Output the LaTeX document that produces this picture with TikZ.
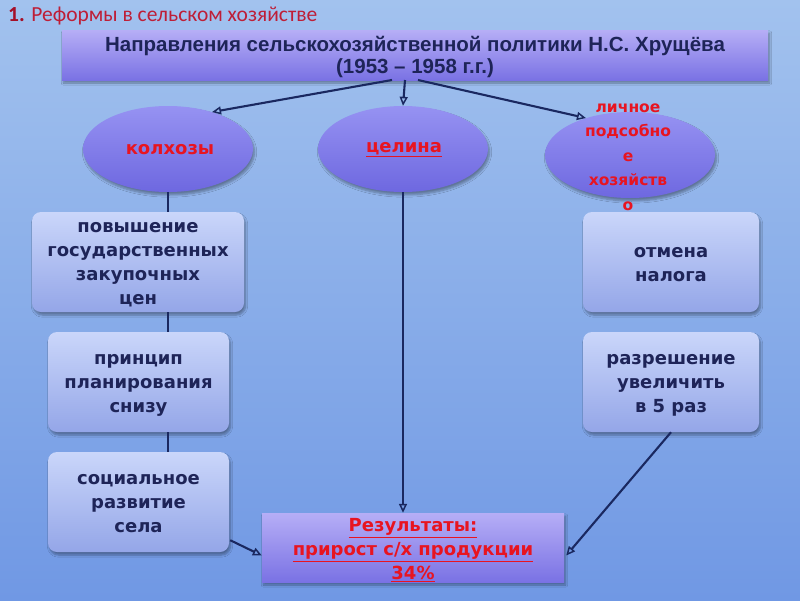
\documentclass[tikz,border=0pt]{standalone}
\usepackage{fontspec}
\setmainfont{DejaVu Sans}
\newfontfamily\titlefont{Carlito}
\newfontfamily\headfont{Liberation Sans}
\usetikzlibrary{arrows.meta,shadows.blur,calc,shapes.geometric}
\definecolor{skytop}{RGB}{162,194,238}
\definecolor{skymid}{RGB}{198,218,246}
\definecolor{skybot}{RGB}{112,152,228}
\definecolor{boxtop}{RGB}{202,214,250}
\definecolor{boxbot}{RGB}{148,166,232}
\definecolor{elltop}{RGB}{150,146,242}
\definecolor{ellbot}{RGB}{110,104,224}
\definecolor{hdrtop}{RGB}{182,174,246}
\definecolor{hdrbot}{RGB}{122,114,228}
\definecolor{navy}{RGB}{30,36,88}
\definecolor{linecol}{RGB}{26,40,96}
\definecolor{redtext}{RGB}{232,20,32}
\definecolor{tdark}{RGB}{165,15,40}
\definecolor{tred}{RGB}{190,30,55}
\tikzset{
  shd/.style={blur shadow={shadow blur steps=6, shadow xshift=1.5pt, shadow yshift=-3pt, shadow opacity=35}},
  bx/.style={shd, rounded corners=9pt, top color=boxtop, bottom color=boxbot, draw=none,
    minimum height=100pt, inner sep=0pt},
  bxt/.style={text=navy, font=\bfseries\fontsize{18}{24}\selectfont, align=center, inner sep=0pt},
  ell/.style={ellipse, shd, top color=elltop, bottom color=ellbot, draw=none,
    minimum width=170pt, minimum height=86pt, inner sep=0pt},
  etext/.style={text=redtext, font=\bfseries\fontsize{18}{24}\selectfont, align=center},
  ptext/.style={text=redtext, font=\bfseries\fontsize{15.5}{24.5}\selectfont, align=center},
  hdr/.style={shd, top color=hdrtop, bottom color=hdrbot, draw=none, inner sep=0pt},
  conn/.style={draw=linecol, line width=2.1pt},
  arr/.style={conn, -{Triangle[open, length=9pt, width=8pt, line width=1.5pt]}}
}
\begin{document}
\begin{tikzpicture}[x=1pt,y=-1pt]
\useasboundingbox (0,0) rectangle (800,600);
\shade[top color=skytop, middle color=skymid, bottom color=skybot] (0,0) rectangle (800,600);

% title
\node[anchor=west, font=\titlefont\fontsize{21.5}{24}\selectfont, inner sep=0pt] (title) at (8,16)
  {\textcolor{tdark}{\textbf{1.}} \textcolor{tred}{Реформы в сельском хозяйстве}};

% header
\node[hdr, minimum width=706pt, minimum height=50pt] (h) at (415,55) {};
\node[text=navy, font=\headfont\bfseries\fontsize{20.5}{22}\selectfont, align=center] (ht) at (415,57)
  {Направления сельскохозяйственной политики Н.С. Хрущёва\\(1953 – 1958 г.г.)};

% ellipses
\node[ell] (k) at (168,149) {};
\node[etext] (kt) at (170,150) {колхозы};
\node[ell] (c) at (403,149) {};
\node[etext] (ct) at (404,150) {\underline{целина}};
\node[ell] (p) at (630,155) {};
\node[ptext] (pt) at (628,157) {личное\\подсобно\\е\\хозяйств\\о};

% left boxes
\node[bx, minimum width=212pt] (b1) at (138,262) {};
\node[bxt] (t1) at (138,265) {повышение\\государственных\\закупочных\\цен};
\node[bx, minimum width=181pt] (b2) at (138.5,382) {};
\node[bxt] (t2) at (138.5,385) {принцип\\планирования\\снизу};
\node[bx, minimum width=181pt] (b3) at (138.5,502) {};
\node[bxt] (t3) at (138.5,504) {социальное\\развитие\\села};

% right boxes
\node[bx, minimum width=176pt] (b4) at (671,262) {};
\node[bxt] (t4) at (671,265) {отмена\\налога};
\node[bx, minimum width=176pt] (b5) at (671,382) {};
\node[bxt] (t5) at (671,385) {разрешение\\увеличить\\в 5 раз};

% result
\node[hdr, minimum width=302pt, minimum height=69pt] (res) at (413,547.5) {};
\node[text=redtext, font=\bfseries\fontsize{18}{24}\selectfont, align=center] (rt) at (413,550)
  {\underline{Результаты:}\\\underline{прирост с/х продукции}\\\underline{34\%}};

% header arrows
\coordinate (hl) at (392,80);
\coordinate (hm) at (405,80);
\coordinate (hr) at (418,80);
\draw[arr] (hl) -- (k.40);
\draw[arr] (hm) -- (c.north);
\draw[arr] (hr) -- (p.140);

% left chain
\draw[conn] (k.south) -- (k.south |- b1.north);
\draw[conn] (k.south |- b1.south) -- (k.south |- b2.north);
\draw[conn] (k.south |- b2.south) -- (k.south |- b3.north);
\draw[arr] ($(b3.south east)+(1,-12)$) -- ($(res.west)+(0,8)$);

% center
\draw[arr] (c.south) -- (c.south |- res.north);

% right chain
\draw[conn] ($(p.south)+(10,0)$) -- ($(p.south)+(10,0)$ |- b4.north);
\draw[conn] ($(p.south)+(10,0)$ |- b4.south) -- ($(p.south)+(10,0)$ |- b5.north);
\draw[arr] (b5.south) -- ($(res.east)+(2,8)$);
\end{tikzpicture}
\end{document}
